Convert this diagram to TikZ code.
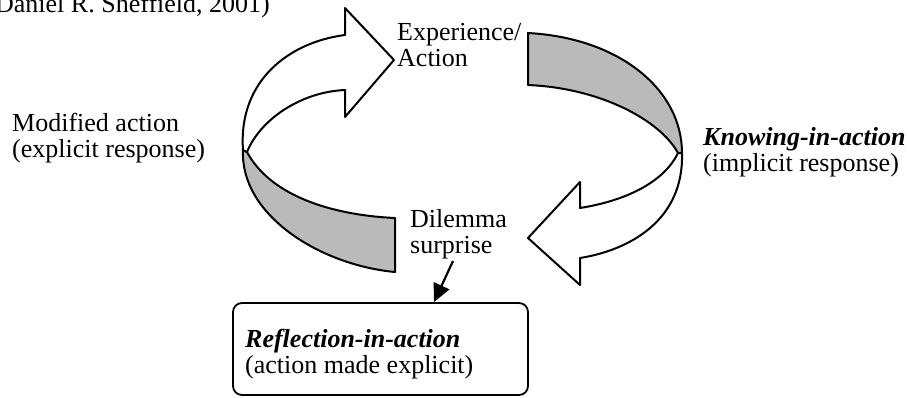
\documentclass[tikz,border=0pt]{standalone}
\usepackage{fontspec}
\setmainfont{Liberation Serif}
\usetikzlibrary{arrows.meta}
\newcommand{\linepair}[2]{\begin{tabular}[t]{@{}l@{}}#1\\#2\end{tabular}}
\begin{document}
\begin{tikzpicture}[x=1pt,y=-1pt,
  outline/.style={draw=black,line width=2pt,line join=round},
  band/.style={outline,fill=black!27},
  plain/.style={outline,fill=white},
  lbl/.style={inner sep=0pt,font=\fontsize{26}{26}\selectfont},
  roundbox/.style={draw=black,line width=1.8pt,rounded corners=9pt,inner sep=0pt},
]
\useasboundingbox (0,0) rectangle (908,397);
\clip (0,0) rectangle (908,397);

% lower-left shaded band of the loop
\draw[band] (243,150) .. controls (240,215) and (320,265) .. (395,272)
  -- (395,218) .. controls (330,215) and (270,195) .. (247,152) -- cycle;
% upper-left curved arrow pointing right
\draw[plain] (247,152) .. controls (260,120) and (300,92) .. (345,90)
  -- (345,117) -- (394,60) -- (345,8) -- (345,35)
  .. controls (290,42) and (238,80) .. (243,150) -- cycle;

% upper-right shaded band of the loop
\draw[band] (528,33) .. controls (620,38) and (682,90) .. (682,153)
  -- (678,153) .. controls (660,120) and (600,88) .. (528,85) -- cycle;
% lower-right curved arrow pointing left
\draw[plain] (682,153) .. controls (684,220) and (630,250) .. (580,258)
  -- (580,285) -- (528,238) -- (580,182) -- (580,208)
  .. controls (630,200) and (665,180) .. (678,153) -- cycle;

% labels
\node[lbl,anchor=base east] (src) at (270,12.5) {Daniel R. Sheffield, 2001)};
\node[lbl,anchor=base west] (exp) at (397,40) {\linepair{Experience/}{Action}};
\node[lbl,anchor=base west] (mod) at (12,131) {\linepair{Modified action}{(explicit response)}};
\node[lbl,anchor=base west] (kia) at (703,145) {\linepair{\textbf{\textit{Knowing-in-action}}}{(implicit response)}};
\node[lbl,anchor=base west] (dil) at (410,227) {\linepair{Dilemma}{surprise}};

% reflection box
\node[roundbox,minimum width=295pt,minimum height=92pt] (refl) at (380.5,349) {};
\node[lbl,anchor=base west] (refltxt) at (245,347) {\linepair{\textbf{\textit{Reflection-in-action}}}{(action made explicit)}};

% pointer from the dilemma to the reflection box
\coordinate (d1) at (453,261);
\coordinate (d2) at (434,302);
\draw[line width=2.2pt,-{Triangle[length=18pt,width=17pt]}] (d1) -- (d2);
\end{tikzpicture}
\end{document}
